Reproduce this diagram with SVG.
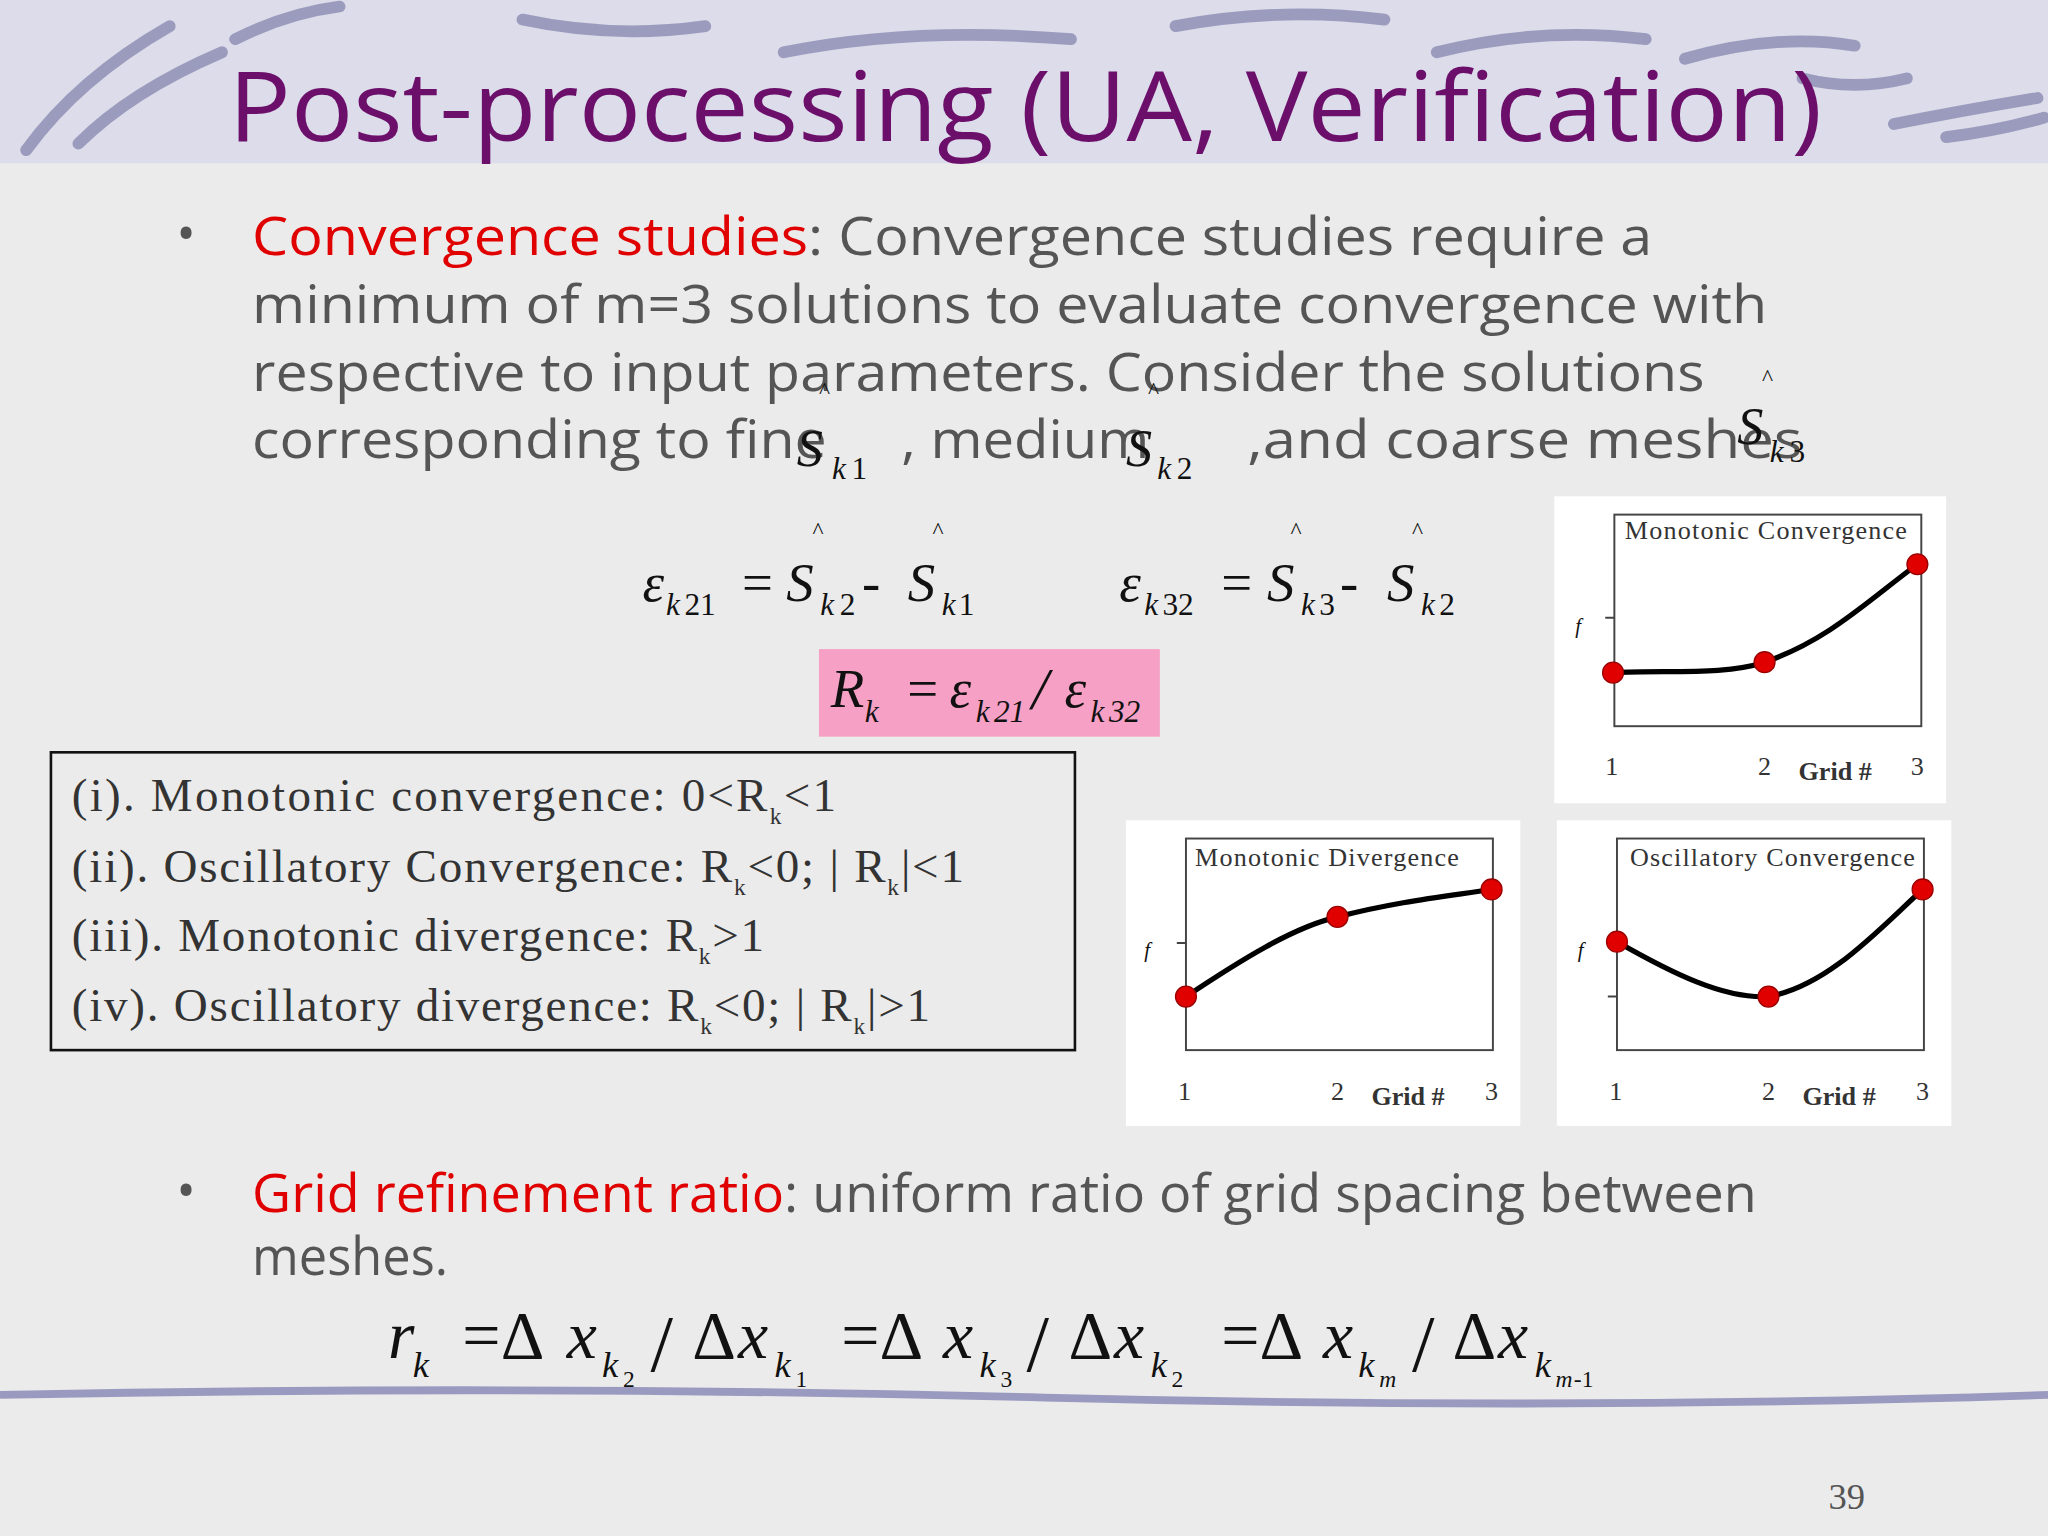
<svg xmlns="http://www.w3.org/2000/svg" width="2048" height="1536" viewBox="0 0 2048 1536">
<style>
.b{font-family:"Open Sans","Noto Sans",sans-serif;font-size:40px;fill:#555}
.r{fill:#e00000}
.m{font-family:"Liberation Serif",serif;font-style:italic;fill:#111}
.s{font-family:"Liberation Serif",serif;fill:#333}
.h{font-family:"Liberation Serif",serif;font-size:16px;fill:#111}
.ax{stroke:#444;stroke-width:1.5;fill:none}
.cv{stroke:#000;stroke-width:4;fill:none}
.pt{fill:#e00000;stroke:#900;stroke-width:1}
.cl{font-family:"Liberation Serif",serif;font-size:20px;fill:#333}
</style>
<g transform="scale(1.30612)">
<rect width="1568" height="1176" fill="#ebebeb"/>
<g id="band">
<rect width="1568" height="125" fill="#dcdcea"/>
<g stroke="#8c8cb4" stroke-width="9" stroke-linecap="round" fill="none" opacity="0.8">
<path d="M20 115 Q60 60 130 20"/><path d="M60 110 Q100 70 170 40"/><path d="M180 30 Q220 10 260 5"/>
<path d="M400 15 Q470 30 540 20"/><path d="M600 40 Q700 20 820 30"/><path d="M900 20 Q980 5 1060 15"/>
<path d="M1100 40 Q1180 20 1260 30"/><path d="M1290 45 Q1360 25 1420 35"/><path d="M1450 95 Q1500 85 1560 75"/>
<path d="M1380 60 Q1420 70 1460 60"/><path d="M1490 105 Q1530 100 1565 90"/>
</g>
</g>
<path d="M0 1068 Q400 1060 800 1070 T1568 1068" stroke="#9a9ac0" stroke-width="6" fill="none"/>
<text x="175" y="108" font-family="Open Sans,Noto Sans,sans-serif" font-size="74" fill="#6b0f6b" textLength="1220" lengthAdjust="spacingAndGlyphs">Post-processing (UA, Verification)</text>
<g id="bullet1">
<text x="135" y="193" class="b">•</text>
<text x="193" y="195" class="b" textLength="1072" lengthAdjust="spacingAndGlyphs"><tspan class="r">Convergence studies</tspan>: Convergence studies require a</text>
<text x="193" y="247" class="b" textLength="1160" lengthAdjust="spacingAndGlyphs">minimum of m=3 solutions to evaluate convergence with</text>
<text x="193" y="299" class="b" textLength="1112" lengthAdjust="spacingAndGlyphs">respective to input parameters. Consider the solutions</text>
<text x="193" y="351" class="b" textLength="440" lengthAdjust="spacingAndGlyphs">corresponding to fine</text>
<text x="690" y="351" class="b" textLength="190" lengthAdjust="spacingAndGlyphs">, medium</text>
<text x="955" y="351" class="b" textLength="425" lengthAdjust="spacingAndGlyphs">,and coarse meshes</text>
</g>
<g id="s-hats" class="m" font-size="40">
<text x="610" y="357">S</text><text x="637" y="367" font-size="24">k</text><text x="652" y="367" font-size="24" font-style="normal">1</text><text x="627" y="305" font-size="18" font-style="normal">^</text>
<text x="862" y="357">S</text><text x="886" y="367" font-size="24">k</text><text x="901" y="367" font-size="24" font-style="normal">2</text><text x="879" y="305" font-size="18" font-style="normal">^</text>
<text x="1330" y="340">S</text><text x="1355" y="354" font-size="24">k</text><text x="1370" y="354" font-size="24" font-style="normal">3</text><text x="1349" y="295" font-size="18" font-style="normal">^</text>
</g>
<g id="eq1" class="m" font-size="42">
<text x="492" y="460">ε</text><text x="510" y="471" font-size="24">k</text><text x="524" y="471" font-size="24" font-style="normal">21</text>
<text x="568" y="460" font-style="normal">=</text><text x="602" y="460">S</text><text x="628" y="471" font-size="24">k</text><text x="643" y="471" font-size="24" font-style="normal">2</text>
<text x="660" y="460" font-style="normal">-</text><text x="695" y="460">S</text><text x="721" y="471" font-size="24">k</text><text x="734" y="471" font-size="24" font-style="normal">1</text>
<text x="622" y="412" font-size="18" font-style="normal">^</text><text x="714" y="412" font-size="18" font-style="normal">^</text>
<text x="857" y="460">ε</text><text x="876" y="471" font-size="24">k</text><text x="890" y="471" font-size="24" font-style="normal">32</text>
<text x="935" y="460" font-style="normal">=</text><text x="970" y="460">S</text><text x="996" y="471" font-size="24">k</text><text x="1010" y="471" font-size="24" font-style="normal">3</text>
<text x="1026" y="460" font-style="normal">-</text><text x="1062" y="460">S</text><text x="1088" y="471" font-size="24">k</text><text x="1102" y="471" font-size="24" font-style="normal">2</text>
<text x="988" y="412" font-size="18" font-style="normal">^</text><text x="1081" y="412" font-size="18" font-style="normal">^</text>
</g>
<g id="rk">
<rect x="627" y="497" width="261" height="67" fill="#f5a0c4"/>
<text class="m" font-size="42" x="636" y="541">R</text><text class="m" font-size="24" x="662" y="553">k</text>
<text class="m" font-size="42" x="692" y="541" font-style="normal">=</text>
<text class="m" font-size="42" x="727" y="541">ε</text><text class="m" font-size="24" x="747" y="553">k</text><text class="m" font-size="24" x="761" y="553" font-style="normal">21</text>
<text class="m" font-size="46" x="790" y="543" font-style="normal">/</text>
<text class="m" font-size="42" x="815" y="541">ε</text><text class="m" font-size="24" x="835" y="553">k</text><text class="m" font-size="24" x="849" y="553" font-style="normal">32</text>
</g>
<g id="cases">
<rect x="39" y="576" width="784" height="228" fill="none" stroke="#111" stroke-width="2"/>
<g class="s" font-size="36">
<text x="55" y="621" textLength="585">(i).  Monotonic convergence: 0&lt;R<tspan font-size="18" dy="10">k</tspan><tspan dy="-10">&lt;1</tspan></text>
<text x="55" y="675" textLength="683">(ii). Oscillatory Convergence: R<tspan font-size="18" dy="10">k</tspan><tspan dy="-10">&lt;0; | R</tspan><tspan font-size="18" dy="10">k</tspan><tspan dy="-10">|&lt;1</tspan></text>
<text x="55" y="728" textLength="530">(iii). Monotonic divergence: R<tspan font-size="18" dy="10">k</tspan><tspan dy="-10">&gt;1</tspan></text>
<text x="55" y="782" textLength="657">(iv). Oscillatory divergence: R<tspan font-size="18" dy="10">k</tspan><tspan dy="-10">&lt;0; | R</tspan><tspan font-size="18" dy="10">k</tspan><tspan dy="-10">|&gt;1</tspan></text>
</g>
</g>
<g id="chart1">
<rect x="1190" y="380" width="300" height="235" fill="#fff"/>
<rect x="1236" y="394" width="235" height="162" class="ax"/>
<path d="M1229 473h7M1229 515h7" class="ax"/>
<text x="1244" y="413" class="cl" textLength="216">Monotonic Convergence</text>
<path d="M1235 515 C1280 513 1320 517 1351 507 C1400 490 1430 460 1468 432" class="cv"/>
<circle cx="1235" cy="515" r="8" class="pt"/><circle cx="1351" cy="507" r="8" class="pt"/><circle cx="1468" cy="432" r="8" class="pt"/>
<text x="1206" y="485" class="h" font-style="italic">f</text>
<text x="1229" y="593" class="cl" font-size="18">1</text><text x="1346" y="593" class="cl" font-size="18">2</text><text x="1463" y="593" class="cl" font-size="18">3</text>
<text x="1377" y="597" class="cl" font-size="19" font-weight="bold">Grid #</text>
</g>
<g id="chart2">
<rect x="862" y="628" width="302" height="234" fill="#fff"/>
<rect x="908" y="642" width="235" height="162" class="ax"/>
<path d="M901 722h7M901 763h7" class="ax"/>
<text x="915" y="663" class="cl" textLength="202">Monotonic Divergence</text>
<path d="M908 763 C950 735 990 710 1024 702 C1070 690 1110 686 1142 681" class="cv"/>
<circle cx="908" cy="763" r="8" class="pt"/><circle cx="1024" cy="702" r="8" class="pt"/><circle cx="1142" cy="681" r="8" class="pt"/>
<text x="876" y="733" class="h" font-style="italic">f</text>
<text x="902" y="842" class="cl" font-size="18">1</text><text x="1019" y="842" class="cl" font-size="18">2</text><text x="1137" y="842" class="cl" font-size="18">3</text>
<text x="1050" y="846" class="cl" font-size="19" font-weight="bold">Grid #</text>
</g>
<g id="chart3">
<rect x="1192" y="628" width="302" height="234" fill="#fff"/>
<rect x="1238" y="642" width="235" height="162" class="ax"/>
<path d="M1231 722h7M1231 763h7" class="ax"/>
<text x="1248" y="663" class="cl" textLength="218">Oscillatory Convergence</text>
<path d="M1238 721 C1280 745 1320 765 1354 763 C1400 755 1440 710 1472 681" class="cv"/>
<circle cx="1238" cy="721" r="8" class="pt"/><circle cx="1354" cy="763" r="8" class="pt"/><circle cx="1472" cy="681" r="8" class="pt"/>
<text x="1208" y="733" class="h" font-style="italic">f</text>
<text x="1232" y="842" class="cl" font-size="18">1</text><text x="1349" y="842" class="cl" font-size="18">2</text><text x="1467" y="842" class="cl" font-size="18">3</text>
<text x="1380" y="846" class="cl" font-size="19" font-weight="bold">Grid #</text>
</g>
<g id="bullet2">
<text x="135" y="926" class="b">•</text>
<text x="193" y="928" class="b" textLength="1152" lengthAdjust="spacingAndGlyphs"><tspan class="r">Grid refinement ratio</tspan>: uniform ratio of grid spacing between</text>
<text x="193" y="976" class="b" textLength="150" lengthAdjust="spacingAndGlyphs">meshes.</text>
</g>
<g id="eq3" class="m" font-size="52">
<text x="297" y="1040">r</text><text x="316" y="1054" font-size="28">k</text>
<text x="354" y="1040" font-style="normal">=Δ</text><text x="434" y="1040">x</text><text x="461" y="1054" font-size="28">k</text><text x="477" y="1062" font-size="18" font-style="normal">2</text>
<text x="498" y="1050" font-size="62" font-style="normal">/</text><text x="530" y="1040" font-style="normal">Δ</text><text x="565" y="1040">x</text><text x="593" y="1054" font-size="28">k</text><text x="609" y="1062" font-size="18" font-style="normal">1</text>
<text x="644" y="1040" font-style="normal">=Δ</text><text x="722" y="1040">x</text><text x="750" y="1054" font-size="28">k</text><text x="766" y="1062" font-size="18" font-style="normal">3</text>
<text x="786" y="1050" font-size="62" font-style="normal">/</text><text x="818" y="1040" font-style="normal">Δ</text><text x="853" y="1040">x</text><text x="881" y="1054" font-size="28">k</text><text x="897" y="1062" font-size="18" font-style="normal">2</text>
<text x="935" y="1040" font-style="normal">=Δ</text><text x="1013" y="1040">x</text><text x="1040" y="1054" font-size="28">k</text><text x="1056" y="1062" font-size="18">m</text>
<text x="1081" y="1050" font-size="62" font-style="normal">/</text><text x="1112" y="1040" font-style="normal">Δ</text><text x="1147" y="1040">x</text><text x="1175" y="1054" font-size="28">k</text><text x="1191" y="1062" font-size="18">m</text><text x="1205" y="1062" font-size="18" font-style="normal">-1</text>
</g>
<text x="1400" y="1155" font-family="Liberation Serif,serif" font-size="28" fill="#555">39</text>
</g>
</svg>
